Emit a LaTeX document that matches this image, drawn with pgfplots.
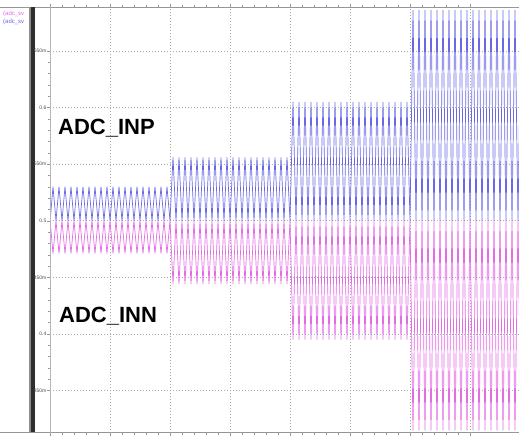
\documentclass[border=0pt]{standalone}
\usepackage{pgfplots}
\pgfplotsset{compat=1.18}
\usepackage{pgfplotstable}
\usepackage{fontspec}
\setmainfont{Liberation Sans}
\definecolor{blueW}{RGB}{105,105,232}
\definecolor{pinkW}{RGB}{230,105,230}
\definecolor{axgray}{RGB}{150,150,150}

\pgfplotstableread[row sep=\\]{
x inp inn\\
0 0.598 0.402\\ 0.002 0.5 0.5\\
0.05 0.530 0.471\\ 0.10 0.5 0.5\\ 0.15 0.530 0.471\\ 0.20 0.5 0.5\\ 0.25 0.530 0.471\\ 0.30 0.5 0.5\\ 0.35 0.530 0.471\\ 0.40 0.5 0.5\\ 0.45 0.530 0.471\\ 0.50 0.5 0.5\\
0.55 0.530 0.471\\ 0.60 0.5 0.5\\ 0.65 0.530 0.471\\ 0.70 0.5 0.5\\ 0.75 0.530 0.471\\ 0.80 0.5 0.5\\ 0.85 0.530 0.471\\ 0.90 0.5 0.5\\ 0.95 0.530 0.471\\ 1.00 0.5 0.5\\
1.05 0.530 0.471\\ 1.10 0.5 0.5\\ 1.15 0.530 0.471\\ 1.20 0.5 0.5\\ 1.25 0.530 0.471\\ 1.30 0.5 0.5\\ 1.35 0.530 0.471\\ 1.40 0.5 0.5\\ 1.45 0.530 0.471\\ 1.50 0.5 0.5\\
1.55 0.530 0.471\\ 1.60 0.5 0.5\\ 1.65 0.530 0.471\\ 1.70 0.5 0.5\\ 1.75 0.530 0.471\\ 1.80 0.5 0.5\\ 1.85 0.530 0.471\\ 1.90 0.5 0.5\\ 1.95 0.530 0.471\\ 2.00 0.5 0.5\\
2.05 0.556 0.444\\ 2.10 0.5 0.5\\ 2.15 0.556 0.444\\ 2.20 0.5 0.5\\ 2.25 0.556 0.444\\ 2.30 0.5 0.5\\ 2.35 0.556 0.444\\ 2.40 0.5 0.5\\ 2.45 0.556 0.444\\ 2.50 0.5 0.5\\
2.55 0.556 0.444\\ 2.60 0.5 0.5\\ 2.65 0.556 0.444\\ 2.70 0.5 0.5\\ 2.75 0.556 0.444\\ 2.80 0.5 0.5\\ 2.85 0.556 0.444\\ 2.90 0.5 0.5\\ 2.95 0.556 0.444\\ 3.00 0.5 0.5\\
3.05 0.556 0.444\\ 3.10 0.5 0.5\\ 3.15 0.556 0.444\\ 3.20 0.5 0.5\\ 3.25 0.556 0.444\\ 3.30 0.5 0.5\\ 3.35 0.556 0.444\\ 3.40 0.5 0.5\\ 3.45 0.556 0.444\\ 3.50 0.5 0.5\\
3.55 0.556 0.444\\ 3.60 0.5 0.5\\ 3.65 0.556 0.444\\ 3.70 0.5 0.5\\ 3.75 0.556 0.444\\ 3.80 0.5 0.5\\ 3.85 0.556 0.444\\ 3.90 0.5 0.5\\ 3.95 0.556 0.444\\ 4.00 0.5 0.5\\
4.05 0.605 0.395\\ 4.10 0.5 0.5\\ 4.15 0.605 0.395\\ 4.20 0.5 0.5\\ 4.25 0.605 0.395\\ 4.30 0.5 0.5\\ 4.35 0.605 0.395\\ 4.40 0.5 0.5\\ 4.45 0.605 0.395\\ 4.50 0.5 0.5\\
4.55 0.605 0.395\\ 4.60 0.5 0.5\\ 4.65 0.605 0.395\\ 4.70 0.5 0.5\\ 4.75 0.605 0.395\\ 4.80 0.5 0.5\\ 4.85 0.605 0.395\\ 4.90 0.5 0.5\\ 4.95 0.605 0.395\\ 5.00 0.5 0.5\\
5.05 0.605 0.395\\ 5.10 0.5 0.5\\ 5.15 0.605 0.395\\ 5.20 0.5 0.5\\ 5.25 0.605 0.395\\ 5.30 0.5 0.5\\ 5.35 0.605 0.395\\ 5.40 0.5 0.5\\ 5.45 0.605 0.395\\ 5.50 0.5 0.5\\
5.55 0.605 0.395\\ 5.60 0.5 0.5\\ 5.65 0.605 0.395\\ 5.70 0.5 0.5\\ 5.75 0.605 0.395\\ 5.80 0.5 0.5\\ 5.85 0.605 0.395\\ 5.90 0.5 0.5\\ 5.95 0.605 0.395\\ 6.00 0.5 0.5\\
6.05 0.686 0.315\\ 6.10 0.5 0.5\\ 6.15 0.686 0.315\\ 6.20 0.5 0.5\\ 6.25 0.686 0.315\\ 6.30 0.5 0.5\\ 6.35 0.686 0.315\\ 6.40 0.5 0.5\\ 6.45 0.686 0.315\\ 6.50 0.5 0.5\\
6.55 0.686 0.315\\ 6.60 0.5 0.5\\ 6.65 0.686 0.315\\ 6.70 0.5 0.5\\ 6.75 0.686 0.315\\ 6.80 0.5 0.5\\ 6.85 0.686 0.315\\ 6.90 0.5 0.5\\ 6.95 0.686 0.315\\ 7.00 0.5 0.5\\
7.05 0.686 0.315\\ 7.10 0.5 0.5\\ 7.15 0.686 0.315\\ 7.20 0.5 0.5\\ 7.25 0.686 0.315\\ 7.30 0.5 0.5\\ 7.35 0.686 0.315\\ 7.40 0.5 0.5\\ 7.45 0.686 0.315\\ 7.50 0.5 0.5\\
7.55 0.686 0.315\\ 7.60 0.5 0.5\\ 7.65 0.686 0.315\\ 7.70 0.5 0.5\\ 7.75 0.686 0.315\\ 7.80 0.5 0.5\\ 7.85 0.686 0.315\\ 7.90 0.5 0.5\\
}\wave

\begin{document}
\begin{tikzpicture}
\path[use as bounding box, fill=white] (0,0) rectangle (519pt,437pt);
% frame decorations drawn first, so the tick labels sit on top
\draw[axgray, line width=0.6pt] (0pt,430pt) -- (519pt,430pt);
\draw[axgray, line width=0.6pt] (0pt,5pt) -- (519pt,5pt);
\fill[black!45] (29pt,5pt) rectangle (30.5pt,430pt);
\fill[black!82] (30.5pt,5pt) rectangle (35pt,430pt);
\begin{axis}[
  at={(50pt,4pt)}, anchor=south west,
  scale only axis, width=469pt, height=426pt,
  xmin=0, xmax=7.8167, ymin=0.3126, ymax=0.6887,
  axis line style={draw=none},
  xtick={0,1,2,3,4,5,6,7}, xticklabels={},
  minor x tick num=4,
  xtick pos=both,
  ytick={0.35,0.4,0.45,0.5,0.55,0.6,0.65},
  yticklabels={350m,0.4,450m,0.5,550m,0.6,650m},
  minor y tick num=4,
  ytick pos=left,
  tick align=outside,
  major tick length=3pt, minor tick length=2pt,
  tick style={axgray, line width=0.4pt},
  yticklabel style={font=\fontsize{5}{5}\selectfont, text=black!70, inner sep=0.5pt},
  /pgf/number format/assume math mode=true,
  grid=major,
  major grid style={draw=axgray!80, dash pattern=on 1pt off 2pt, line width=0.5pt},
]
\addplot[pinkW, line width=0.7pt] table[x=x, y=inn]{\wave};
\addplot[blueW, line width=0.7pt] table[x=x, y=inp]{\wave};
\end{axis}
\draw[axgray!70, line width=0.4pt] (50pt,4pt) -- (50pt,430pt);
\node[anchor=west, inner sep=0pt, font=\fontsize{6}{6}\selectfont, text=pinkW] at (3pt,423pt) {(adc\_sv};
\node[anchor=west, inner sep=0pt, font=\fontsize{6}{6}\selectfont, text=blueW] at (3pt,415pt) {(adc\_sv};
\node[anchor=base west, inner sep=0pt, font=\fontsize{22}{22}\selectfont\bfseries] at (58pt,302pt) {ADC\_INP};
\node[anchor=base west, inner sep=0pt, font=\fontsize{22}{22}\selectfont\bfseries] at (59pt,115pt) {ADC\_INN};
\end{tikzpicture}
\end{document}
